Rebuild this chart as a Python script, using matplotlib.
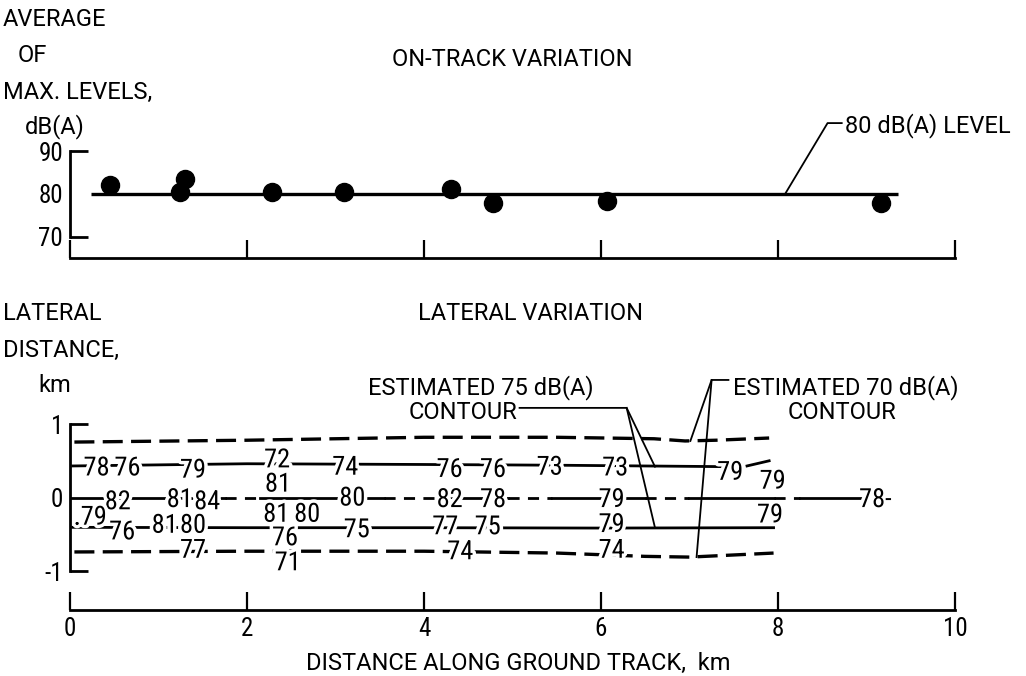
import matplotlib
matplotlib.use("Agg")
import matplotlib.pyplot as plt
import matplotlib.patheffects as pe
from matplotlib import font_manager


# narrow sans for the numbers, a plain sans for the words
installed = {f.name for f in font_manager.fontManager.ttflist}
NARROW = next((n for n in ["Liberation Sans Narrow", "Roboto Condensed", "Open Sans Condensed"]
               if n in installed), "DejaVu Sans")
WORDS = "Roboto" if "Roboto" in installed else "DejaVu Sans"
plt.rcParams["font.family"] = [NARROW, "DejaVu Sans"]

# ---- on-track variation (average of max levels, dB(A)) ----
track_km = [0.45, 1.24, 1.30, 2.28, 3.10, 4.31, 4.78, 6.07, 9.16]
track_db = [82.0, 80.4, 83.4, 80.5, 80.5, 81.1, 77.8, 78.4, 77.9]
level_db = 80
level_km = [0.24, 9.36]

# ---- lateral variation ----
# estimated 70 dB(A) contour (dashed)
c70_upper_km = [0.05, 2.0, 4.0, 5.5, 6.6, 6.95, 7.3, 7.9]
c70_upper_lat = [0.755, 0.78, 0.82, 0.82, 0.80, 0.77, 0.78, 0.81]
c70_lower_km = [0.05, 2.0, 4.0, 5.5, 6.5, 7.0, 7.95]
c70_lower_lat = [-0.74, -0.73, -0.73, -0.755, -0.80, -0.81, -0.755]
# estimated 75 dB(A) contour (solid)
c75_upper_km = [0.03, 2.0, 4.0, 5.5, 7.45]
c75_upper_lat = [0.43, 0.46, 0.45, 0.44, 0.42]
c75_tail_km = [7.65, 7.90]
c75_tail_lat = [0.43, 0.50]
c75_lower_km = [0.03, 2.0, 4.0, 6.0, 7.95]
c75_lower_lat = [-0.405, -0.41, -0.41, -0.415, -0.41]
# ground track, mixed solid / dashed
track_solid = [(0.0, 1.75), (2.15, 3.55), (4.15, 4.95), (5.45, 6.5), (7.0, 7.95), (8.25, 9.0)]
track_dashed = [(1.75, 2.15), (3.55, 4.15), (4.95, 5.45), (6.5, 7.0), (7.95, 8.25)]

# measured levels, dB(A)
label_km = [0.30, 0.65, 1.39, 2.34, 3.11, 4.29, 4.78, 5.42, 6.16, 7.46, 7.94,
            0.54, 1.24, 1.55, 2.35, 3.19, 4.29, 4.78, 6.12, 9.10,
            0.23, 0.59, 1.07, 1.39, 2.33, 2.68, 2.43, 3.24, 4.24, 4.72, 6.12, 7.91,
            1.39, 2.46, 4.41, 6.12]
label_lat = [0.43, 0.43, 0.40, 0.54, 0.44, 0.41, 0.41, 0.44, 0.43, 0.37, 0.25,
             -0.03, 0.0, -0.03, 0.21, 0.02, 0.0, 0.0, 0.0, 0.0,
             -0.24, -0.44, -0.35, -0.35, -0.20, -0.20, -0.52, -0.41, -0.37, -0.37, -0.34, -0.21,
             -0.69, -0.86, -0.71, -0.69]
label_text = ["78", "76", "79", "72", "74", "76", "76", "73", "73", "79", "79",
              "82", "81", "84", "81", "80", "82", "78", "79", "78-",
              ".79", "76", "81", "80", "81", "80", "76", "75", "77", "75", "79", "79",
              "77", "71", "74", "74"]

X_TICKS = [0, 2, 4, 6, 8, 10]
FS = 17
NUM_FS = 19


def style_axis(ax, ylim, yticks, bracket):
    ax.set_xlim(0, 10)
    ax.set_ylim(*ylim)
    ax.patch.set_visible(False)
    for side in ("top", "right"):
        ax.spines[side].set_visible(False)
    ax.spines["left"].set_bounds(*bracket)
    ax.spines["left"].set_linewidth(2.0)
    ax.spines["bottom"].set_linewidth(2.0)
    ax.set_xticks(X_TICKS)
    ax.tick_params(axis="x", direction="in", length=13, width=1.6, pad=5, labelsize=18)
    ax.set_yticks(yticks, [str(t) for t in yticks])
    ax.tick_params(axis="y", direction="in", length=13, width=2.0, pad=5, labelsize=18)
    ax.yaxis.get_major_ticks()[1].tick1line.set_visible(False)


def words(x, y, s, **kw):
    fig.text(x / 1026, 1 - y / 676, s, fontsize=FS, family=WORDS, va="center", **kw)


fig = plt.figure(figsize=(10.26, 6.76), dpi=100, facecolor="white")
ax_top = fig.add_axes([0.0682, 0.6183, 0.8626, 0.1583])
ax_low = fig.add_axes([0.0682, 0.0976, 0.8626, 0.2751])

# ---------------- top panel ----------------
style_axis(ax_top, (65.1, 90), [70, 80, 90], (70, 90))
ax_top.tick_params(axis="x", labelbottom=False)
ax_top.plot(level_km, [level_db, level_db], color="black", lw=2.4, solid_capstyle="butt")
ax_top.plot(track_km, track_db, "o", color="black", ms=13, clip_on=False)
ax_top.plot([8.08, 8.56, 8.72], [level_db, 96.5, 96.5], color="black", lw=1.3, clip_on=False)
ax_top.text(8.76, 96.5, "80 dB(A) LEVEL", fontsize=FS, family=WORDS, ha="left",
            va="center_baseline")

# ---------------- lower panel ----------------
style_axis(ax_low, (-1.53, 1.0), [-1, 0, 1], (-1, 1))
dash = (0, (6, 2.5))
ax_low.plot(c70_upper_km, c70_upper_lat, color="black", lw=2.4, ls=dash)
ax_low.plot(c70_lower_km, c70_lower_lat, color="black", lw=2.4, ls=dash)
ax_low.plot(c75_upper_km, c75_upper_lat, color="black", lw=2.0)
ax_low.plot(c75_tail_km, c75_tail_lat, color="black", lw=2.0)
ax_low.plot(c75_lower_km, c75_lower_lat, color="black", lw=2.0)
for a, b in track_solid:
    ax_low.plot([a, b], [0, 0], color="black", lw=2.0)
for a, b in track_dashed:
    ax_low.plot([a, b], [0, 0], color="black", lw=2.0, ls=(0, (4, 3)))

# white halo so the lines break round each number
halo = [pe.withStroke(linewidth=5, foreground="white")]
for x, y, s in zip(label_km, label_lat, label_text):
    ax_low.text(x, y, s, fontsize=NUM_FS, ha="center", va="center_baseline", color="black",
                zorder=4, path_effects=halo)

# contour call-outs
ax_low.text(4.64, 1.53, "ESTIMATED 75 dB(A)", fontsize=FS, family=WORDS, ha="center",
            va="center_baseline")
ax_low.text(5.05, 1.19, "CONTOUR", fontsize=FS, family=WORDS, ha="right", va="center_baseline")
ax_low.plot([5.08, 6.29, 6.61], [1.22, 1.22, 0.42], color="black", lw=1.3, clip_on=False, zorder=5)
ax_low.plot([6.29, 6.61], [1.22, -0.41], color="black", lw=1.3, clip_on=False, zorder=5)
ax_low.text(7.49, 1.53, "ESTIMATED 70 dB(A)", fontsize=FS, family=WORDS, ha="left",
            va="center_baseline")
ax_low.text(8.72, 1.19, "CONTOUR", fontsize=FS, family=WORDS, ha="center", va="center_baseline")
ax_low.plot([7.44, 7.25, 7.01], [1.60, 1.60, 0.77], color="black", lw=1.3, clip_on=False, zorder=5)
ax_low.plot([7.25, 7.08], [1.60, -0.81], color="black", lw=1.3, clip_on=False, zorder=5)

# ---------------- figure texts ----------------
words(3, 20, "AVERAGE")
words(18, 55, "OF")
words(3, 92, "MAX. LEVELS,")
words(25, 127, "dB(A)")
words(512, 60, "ON-TRACK VARIATION", ha="center")

words(3, 313, "LATERAL")
words(3, 350, "DISTANCE,")
words(38, 385, "km")
words(530, 313, "LATERAL VARIATION", ha="center")

words(518, 663, "DISTANCE ALONG GROUND TRACK,  km", ha="center")

fig.savefig("out.png", dpi=100, facecolor="white")
